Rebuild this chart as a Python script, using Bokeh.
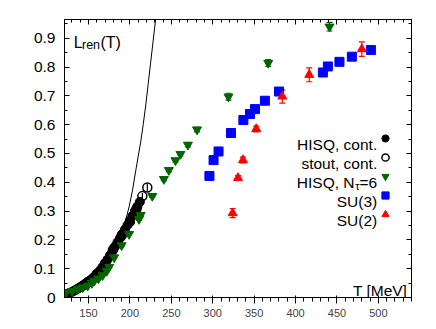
from bokeh.plotting import figure
from bokeh.models import (ColumnDataSource, Range1d, LinearAxis, Whisker, TeeHead,
                          Label, Legend, LegendItem, CustomJSTickFormatter, SingleIntervalTicker)
from bokeh.embed import file_html
from bokeh.resources import INLINE

# ---- data ----
hisq_T = [122, 125, 128, 131, 134, 137, 140, 143, 146, 149, 152, 155, 158, 161, 164, 167,
          170, 173, 176, 179, 182, 185, 188, 191, 194, 197, 200, 203, 206, 209, 212]
hisq_L = [0.010, 0.013, 0.017, 0.021, 0.026, 0.031, 0.036, 0.042, 0.048, 0.054, 0.060, 0.067,
          0.075, 0.084, 0.094, 0.106, 0.119, 0.132, 0.147, 0.162, 0.177, 0.192, 0.206, 0.221,
          0.236, 0.251, 0.266, 0.283, 0.300, 0.316, 0.332]

stout_T = [150, 160, 170, 180, 190, 200, 208, 215, 221]
stout_L = [0.055, 0.082, 0.118, 0.168, 0.215, 0.264, 0.308, 0.352, 0.382]
stout_err = [0.005, 0.006, 0.007, 0.008, 0.009, 0.010, 0.010, 0.011, 0.012]

nt6_T = [122.5, 130, 137, 143, 149, 154, 157, 162, 167, 172, 175, 181, 190, 199, 211, 213,
         227, 241, 247, 255, 261, 270, 281, 319, 367, 441]
nt6_L = [0.017, 0.022, 0.029, 0.035, 0.041, 0.050, 0.058, 0.066, 0.077, 0.092, 0.106, 0.139,
         0.181, 0.220, 0.272, 0.286, 0.352, 0.411, 0.442, 0.476, 0.498, 0.530, 0.583, 0.697,
         0.814, 0.940]
nt6_err = [0.002, 0.002, 0.002, 0.002, 0.002, 0.002, 0.002, 0.002, 0.002, 0.002, 0.002, 0.003,
           0.003, 0.003, 0.004, 0.004, 0.004, 0.005, 0.005, 0.006, 0.006, 0.007, 0.008, 0.012,
           0.012, 0.015]

su3_T = [296, 301, 307, 322, 337, 345, 351, 363, 380, 433, 439, 453, 468, 491]
su3_L = [0.422, 0.477, 0.507, 0.571, 0.616, 0.637, 0.654, 0.683, 0.715, 0.781, 0.802, 0.818,
         0.836, 0.859]

su2_T = [324, 330.5, 336.5, 352.5, 384, 416.5, 480]
su2_L = [0.293, 0.415, 0.477, 0.585, 0.698, 0.773, 0.862]
su2_err = [0.016, 0.008, 0.010, 0.010, 0.023, 0.024, 0.025]

curve_T = [121, 130, 140, 150, 160, 170, 180, 186, 191, 195, 199, 203, 207, 210, 213, 216,
           219, 222, 225, 228, 231, 233]
curve_L = [0.003, 0.008, 0.018, 0.033, 0.055, 0.088, 0.140, 0.190, 0.235, 0.270, 0.315, 0.370,
           0.440, 0.490, 0.540, 0.600, 0.665, 0.740, 0.815, 0.890, 0.965, 1.02]

x_ticks_interval = 50
y_ticks_interval = 0.1

GREEN = "#006400"
BLUE = "#0000ff"
RED = "#ff0000"
FONT = "Liberation Sans"

p = figure(width=428, height=329, x_range=Range1d(121, 540), y_range=Range1d(0, 0.965),
           output_backend="svg", toolbar_location=None,
           min_border_left=64, min_border_right=17, min_border_top=19, min_border_bottom=32)
p.grid.visible = False
p.outline_line_color = "black"
p.outline_line_width = 1
p.background_fill_color = "white"
p.border_fill_color = "white"

xt = SingleIntervalTicker(interval=x_ticks_interval, num_minor_ticks=5)
yt = SingleIntervalTicker(interval=y_ticks_interval, num_minor_ticks=2)
p.xaxis.ticker = xt
p.yaxis.ticker = yt
p.yaxis.formatter = CustomJSTickFormatter(
    code="return Math.abs(tick) < 1e-9 ? '0' : tick.toFixed(1);")

blank = CustomJSTickFormatter(code="return '';")
top = LinearAxis(ticker=xt, formatter=blank)
right = LinearAxis(ticker=yt, formatter=blank)
p.add_layout(top, "above")
p.add_layout(right, "right")

for ax in [p.xaxis[0], p.yaxis[0], top, right]:
    ax.major_tick_in = 5
    ax.major_tick_out = 0
    ax.minor_tick_in = 3
    ax.minor_tick_out = 0
    ax.axis_line_color = "black"
    ax.major_tick_line_color = "black"
    ax.minor_tick_line_color = "black"
    ax.major_label_text_font = FONT
    ax.major_label_text_color = "black"
    ax.major_label_text_font_size = "15.5px"
for ax in [top, right]:
    ax.major_label_standoff = 0
p.xaxis[0].major_label_standoff = 7
p.yaxis[0].major_label_standoff = 9

# curve
p.line(curve_T, curve_L, line_color="black", line_width=1)

# HISQ continuum
r_hisq = p.scatter(hisq_T, hisq_L, marker="circle", size=9, color="black")

# stout continuum
s_src = ColumnDataSource(dict(T=stout_T, L=stout_L,
                              lo=[a - b for a, b in zip(stout_L, stout_err)],
                              hi=[a + b for a, b in zip(stout_L, stout_err)]))
p.add_layout(Whisker(source=s_src, base="T", lower="lo", upper="hi", line_color="black",
                     line_width=1.2, upper_head=None, lower_head=None))
r_stout = p.scatter("T", "L", source=s_src, marker="circle", size=9, fill_alpha=0,
                    line_color="black", line_width=1.5)

# HISQ Nt=6
g_src = ColumnDataSource(dict(T=nt6_T, L=nt6_L,
                              lo=[a - b for a, b in zip(nt6_L, nt6_err)],
                              hi=[a + b for a, b in zip(nt6_L, nt6_err)]))
p.add_layout(Whisker(source=g_src, base="T", lower="lo", upper="hi", line_color=GREEN,
                     line_width=1.2,
                     upper_head=TeeHead(size=6, line_color=GREEN, line_width=1.2),
                     lower_head=TeeHead(size=6, line_color=GREEN, line_width=1.2)))
r_nt6 = p.scatter("T", "L", source=g_src, marker="inverted_triangle", size=9, color=GREEN)

# SU(3)
r_su3 = p.scatter(su3_T, su3_L, marker="square", size=9, color=BLUE)

# SU(2)
r_src = ColumnDataSource(dict(T=su2_T, L=su2_L,
                              lo=[a - b for a, b in zip(su2_L, su2_err)],
                              hi=[a + b for a, b in zip(su2_L, su2_err)]))
p.add_layout(Whisker(source=r_src, base="T", lower="lo", upper="hi", line_color=RED,
                     line_width=1.2,
                     upper_head=TeeHead(size=6, line_color=RED, line_width=1.2),
                     lower_head=TeeHead(size=6, line_color=RED, line_width=1.2)))
r_su2 = p.scatter("T", "L", source=r_src, marker="triangle", size=9, color=RED)

# legend (glyphs only; text drawn as labels to the left of the glyphs)
legend = Legend(items=[LegendItem(label=" ", renderers=[r]) for r in
                       [r_hisq, r_stout, r_nt6, r_su3, r_su2]],
                location=(311, 74), glyph_width=20, glyph_height=18, label_height=18,
                label_width=0, spacing=1, padding=0, margin=0, label_standoff=0,
                label_text_font_size="1px", border_line_alpha=0, background_fill_alpha=0)
p.add_layout(legend)

LEG_FS = "15.5px"
centers = [137.7, 156.7, 175.7, 194.7, 213.7]
texts = ["HISQ, cont.", "stout, cont.", None, "SU(3)", "SU(2)"]
for c, t in zip(centers, texts):
    base = 296.7 - (c + 5.5)
    if t is not None:
        p.add_layout(Label(x=312.7, y=base, x_units="screen", y_units="screen", text=t,
                           text_align="right", text_baseline="alphabetic",
                           text_font=FONT, text_font_size=LEG_FS, text_color="black"))
    else:
        p.add_layout(Label(x=312.7, y=base, x_units="screen", y_units="screen", text="=6",
                           text_align="right", text_baseline="alphabetic",
                           text_font=FONT, text_font_size=LEG_FS, text_color="black"))
        p.add_layout(Label(x=295.0, y=base - 3.5, x_units="screen", y_units="screen", text="τ",
                           text_align="right", text_baseline="alphabetic",
                           text_font=FONT, text_font_size="11px", text_color="black"))
        p.add_layout(Label(x=290.0, y=base, x_units="screen", y_units="screen", text="HISQ, N",
                           text_align="right", text_baseline="alphabetic",
                           text_font=FONT, text_font_size=LEG_FS, text_color="black"))

# y label inside: L_ren(T)
p.add_layout(Label(x=9.3, y=296.7 - 41.3, x_units="screen", y_units="screen", text="L",
                   text_baseline="alphabetic", text_font=FONT, text_font_size="16px",
                   text_color="black"))
p.add_layout(Label(x=17.5, y=296.7 - 44.5, x_units="screen", y_units="screen", text="ren",
                   text_baseline="alphabetic", text_font=FONT, text_font_size="12.5px",
                   text_color="black"))
p.add_layout(Label(x=36.0, y=296.7 - 41.3, x_units="screen", y_units="screen", text="(T)",
                   text_baseline="alphabetic", text_font=FONT, text_font_size="16px",
                   text_color="black"))

# x label inside
p.add_layout(Label(x=342.7, y=296.7 - 289.5, x_units="screen", y_units="screen",
                   text="T [MeV]", text_align="right", text_baseline="alphabetic",
                   text_font=FONT, text_font_size=LEG_FS, text_color="black"))

open("out.html", "w").write(file_html(p, INLINE))
